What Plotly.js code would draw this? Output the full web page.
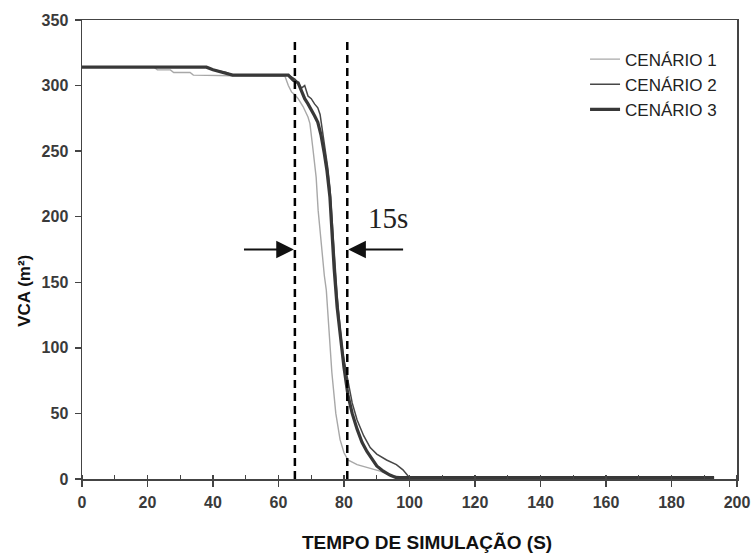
<!DOCTYPE html>
<html>
<head>
<meta charset="utf-8">
<script src="https://cdn.plot.ly/plotly-3.0.1.min.js"></script>
<style>html,body{margin:0;padding:0;background:#fff;}#chart{width:754px;height:555px;}</style>
</head>
<body>
<div id="chart"></div>
<script>
// Scenario data (time in s, VCA in m²)
const c1X = [0, 22, 23, 27, 28, 33, 34, 44, 46, 62, 63, 64, 65, 66, 67.5, 69, 69.6, 70.5, 71.5, 72.1, 72.7, 73.3, 74, 74.6, 75.4, 76.3, 77.5, 78.8, 80, 81.2, 84, 88, 91, 94, 97, 99, 193];
const c1Y = [314, 314, 312, 312, 310, 310, 308, 308, 307.5, 307, 300, 295, 293, 290, 284, 276, 271, 252, 230, 205, 188, 170, 155, 144, 115, 81, 50, 30, 20, 14.5, 11, 8, 6, 3, 2, 1, 1];

const c2X = [0, 38, 40, 44, 46, 63, 65, 66, 67, 68, 69, 70, 71, 72, 72.7, 73.5, 74.2, 75, 75.7, 76.3, 77, 77.9, 78.8, 79.7, 81.2, 82.5, 84, 86, 88, 90, 93, 96, 98, 100, 193];
const c2Y = [314, 314, 312, 310, 308, 308, 305, 302, 298, 300, 292, 290, 286, 283, 278, 265, 252, 238, 222, 200, 170, 140, 115, 95, 75, 58, 45, 33, 24, 19, 14.5, 11, 7, 1, 1];

const c3X = [0, 38, 40, 44, 46, 63, 64.5, 66, 67, 68, 69, 70, 71, 72, 73, 74, 74.8, 75.7, 76.3, 77, 77.9, 79, 80, 81.2, 82.5, 84, 85.5, 87, 88.5, 90, 92, 94, 96, 193];
const c3Y = [314, 314, 312, 309, 308, 308, 304, 302, 296, 290, 286, 282, 277, 272, 262, 248, 235, 215, 188, 160, 131, 105, 85, 64, 50, 38, 28, 21, 15, 10, 6, 3, 1, 1];

const seriesNames = ["CENÁRIO 1", "CENÁRIO 2", "CENÁRIO 3"];

// Marker lines delimiting the 15 s interval
const markTimes = [65, 81];
const markSpan = [0, 335];
const gapLabel = "15s";

const xTicks = [0, 20, 40, 60, 80, 100, 120, 140, 160, 180, 200];
const yTicks = [0, 50, 100, 150, 200, 250, 300, 350];

const xTitle = "TEMPO DE SIMULAÇÃO (S)";
const yTitle = "VCA (m²)";

const traces = [
  {x: c1X, y: c1Y, name: seriesNames[0], mode: "lines", line: {color: "#a8a8a8", width: 1.4}},
  {x: c2X, y: c2Y, name: seriesNames[1], mode: "lines", line: {color: "#474747", width: 1.5}},
  {x: c3X, y: c3Y, name: seriesNames[2], mode: "lines", line: {color: "#383838", width: 3.2}}
];
markTimes.forEach(t => traces.push({
  x: [t, t], y: markSpan, mode: "lines", showlegend: false, hoverinfo: "skip",
  line: {color: "#000", width: 2.5, dash: "8px,5px"}
}));

const tickFont = {family: "Liberation Sans, Arial", size: 16, color: "#3a3a3a", weight: 700};

const layout = {
  width: 754, height: 555,
  margin: {l: 82, r: 17, t: 20, b: 76},
  paper_bgcolor: "#fff", plot_bgcolor: "#fff",
  showlegend: true,
  legend: {x: 0.768, y: 0.953, xanchor: "left", yanchor: "top", bgcolor: "rgba(0,0,0,0)",
           font: {family: "Liberation Sans, Arial", size: 17, color: "#222"}},
  xaxis: {
    range: [0, 200], tickvals: xTicks, ticks: "outside", ticklen: 6, tickcolor: "#444", tickwidth: 1.3,
    showline: true, linecolor: "#444", linewidth: 1.5, mirror: true, showgrid: false, zeroline: false,
    tickfont: tickFont, ticklabelstandoff: 2,
    minor: {dtick: 10, ticks: "inside", ticklen: 4, tickcolor: "#444", tickwidth: 1.2}
  },
  yaxis: {
    range: [0, 350], tickvals: yTicks, ticks: "outside", ticklen: 6, tickcolor: "#444", tickwidth: 1.3,
    showline: true, linecolor: "#444", linewidth: 1.5, mirror: true, showgrid: false, zeroline: false,
    tickfont: tickFont, ticklabelstandoff: 3
  },
  annotations: [
    {x: markTimes[0], y: 175, ax: 49, ay: 175, xref: "x", yref: "y", axref: "x", ayref: "y",
     text: "", showarrow: true, arrowhead: 2, arrowsize: 1.6, arrowwidth: 2.2, arrowcolor: "#111", standoff: 1},
    {x: markTimes[1], y: 175, ax: 98.5, ay: 175, xref: "x", yref: "y", axref: "x", ayref: "y",
     text: "", showarrow: true, arrowhead: 2, arrowsize: 1.6, arrowwidth: 2.2, arrowcolor: "#111", standoff: 1},
    {x: 93.5, y: 199, xref: "x", yref: "y", text: gapLabel, showarrow: false,
     font: {family: "Liberation Serif, Times New Roman, serif", size: 29, color: "#222"}},
    {x: 0.527, y: -0.138, xref: "paper", yref: "paper", yanchor: "middle", xanchor: "center",
     text: xTitle, showarrow: false,
     font: {family: "Liberation Sans, Arial", size: 19, color: "#111", weight: "bold"}},
    {x: -0.087, y: 0.41, xref: "paper", yref: "paper", xanchor: "center", yanchor: "middle",
     text: yTitle, showarrow: false, textangle: -90,
     font: {family: "Liberation Sans, Arial", size: 17, color: "#111", weight: "bold"}}
  ]
};

Plotly.newPlot("chart", traces, layout, {displayModeBar: false, staticPlot: true});
</script>
</body>
</html>
